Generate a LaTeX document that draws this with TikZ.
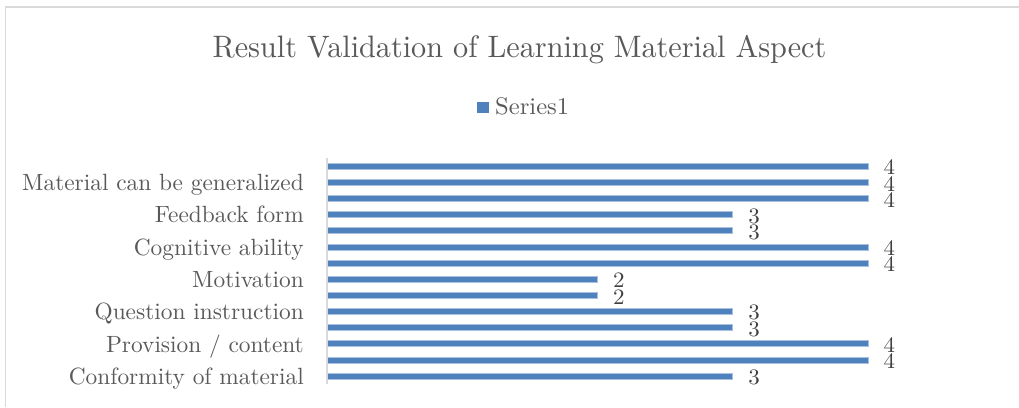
\documentclass[tikz,border=0pt]{standalone}
\usepackage{graphicx}
\definecolor{txt}{HTML}{595959}
\definecolor{barc}{HTML}{4F81BD}
\definecolor{baredge}{HTML}{A9C0DE}
\definecolor{gridc}{HTML}{D9D9D9}
\definecolor{valc}{HTML}{404040}
\begin{document}
\begin{tikzpicture}[x=1pt,y=-1pt,
  cat/.style={anchor=base east, inner sep=0pt, text=txt, font=\fontsize{10}{12}\selectfont},
  vallab/.style={anchor=west, inner sep=0pt, text=valc, font=\fontsize{10}{12}\selectfont},
  hbar/.style={fill=barc, draw=baredge, line width=0.5pt},
  frame/.style={draw=gridc, line width=1.5pt}]
\useasboundingbox (0,0) rectangle (1019,407);
\draw[frame] (5.5,407) -- (5.5,7) -- (1019,7);
\node[anchor=base, inner sep=0pt, text=txt, font=\fontsize{10}{12}\selectfont] (title) at (519.5,57)
  {\scalebox{3.02}[3.1]{Result Validation of Learning Material Aspect}};
\node[fill=barc, minimum width=12pt, minimum height=11pt, inner sep=0pt] (legsq) at (483,107.5) {};
\node[anchor=base west, inner sep=0pt, text=txt, font=\fontsize{10}{12}\selectfont] (legtxt) at (495,114)
  {\scalebox{2.46}[2.4]{Series1}};
\foreach \v [count=\i] in {4,4,4,3,3,4,4,2,2,3,3,4,4,3} {
  \pgfmathsetmacro\yc{166+(\i-1)*16.154}
  \pgfmathsetmacro\xe{327+\v*135.2}
  \draw[hbar] (327,\yc-3) rectangle (\xe,\yc+3);
  \node[vallab] (v\i) at (\xe+15.5,\yc+1.5) {\scalebox{2.3}[2.2]{\v}};
}
\draw[frame, line width=1.3pt] (327,158) -- (327,384.3);
\foreach \t [count=\k] in {Material can be generalized, Feedback form, Cognitive ability, Motivation, Question instruction, Provision / content, Conformity of material} {
  \pgfmathsetmacro\yc{166+(2*\k-1)*16.154}
  \node[cat] (c\k) at (304,\yc+8.4) {\scalebox{2.335}[2.35]{\t}};
}
\end{tikzpicture}
\end{document}
